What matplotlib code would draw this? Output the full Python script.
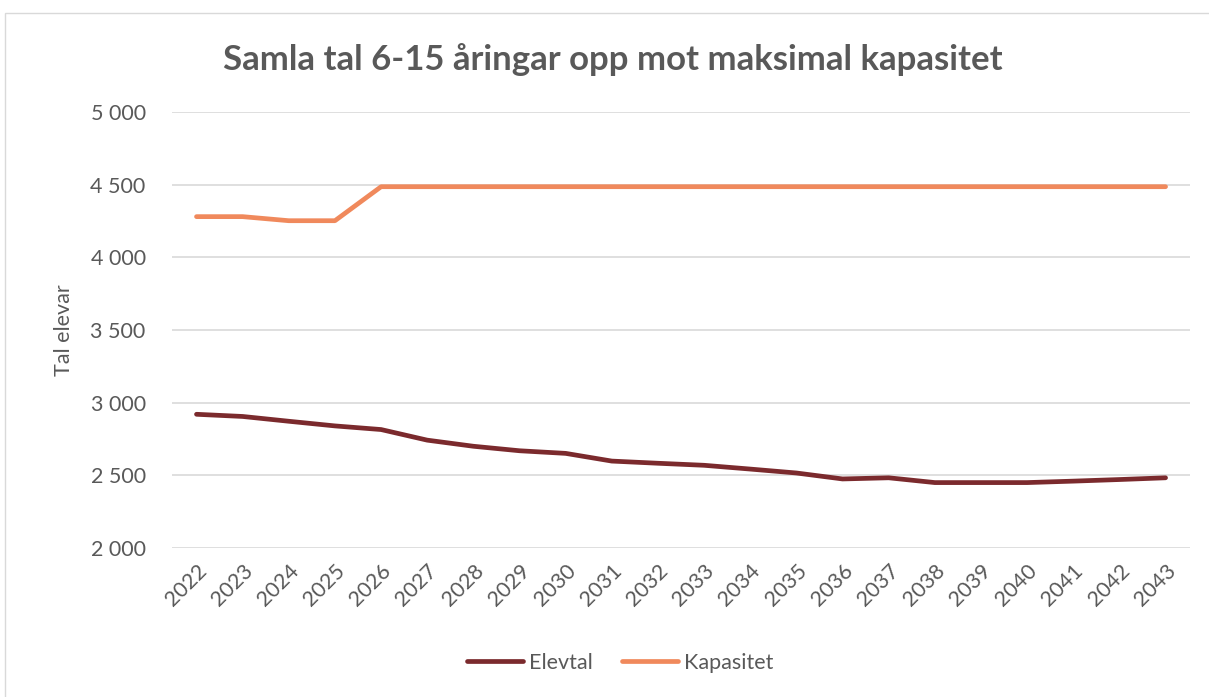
import matplotlib
matplotlib.use("Agg")
import matplotlib.pyplot as plt
from matplotlib.patches import Rectangle
from matplotlib.ticker import FuncFormatter

years = [str(y) for y in range(2022, 2044)]
elevtal = [2920, 2905, 2872, 2840, 2815, 2742, 2700, 2669, 2651, 2598, 2583,
           2569, 2543, 2516, 2475, 2483, 2450, 2450, 2450, 2460, 2471, 2483]
kapasitet = [4280, 4280, 4252, 4252, 4486, 4486, 4486, 4486, 4486, 4486, 4486,
             4486, 4486, 4486, 4486, 4486, 4486, 4486, 4486, 4486, 4486, 4486]
yticks = [2000, 2500, 3000, 3500, 4000, 4500, 5000]

GREY = "#595959"
MAROON = "#7B2A2D"
ORANGE = "#F0895C"
plt.rcParams["font.family"] = ["Lato", "DejaVu Sans"]

fig = plt.figure(figsize=(12.09, 6.97), dpi=100)
ax = fig.add_axes([0.1423, 0.2138, 0.842, 0.6255])

# outer chart border (light grey frame as in the office chart)
fig.patches.append(Rectangle((5 / 1209, -0.01), 1.02, 1 - 13 / 697 + 0.01,
                             transform=fig.transFigure, fill=False,
                             edgecolor="#d9d9d9", lw=1.0))

x = range(len(years))
ax.plot(x, elevtal, color=MAROON, lw=3.4, solid_capstyle="round",
        solid_joinstyle="round", label="Elevtal")
ax.plot(x, kapasitet, color=ORANGE, lw=3.4, solid_capstyle="round",
        solid_joinstyle="round", label="Kapasitet")

ax.set_xlim(-0.53, len(years) - 0.47)
ax.set_ylim(2000, 5000)
ax.set_yticks(yticks)
ax.yaxis.set_major_formatter(FuncFormatter(lambda v, p: f"{v:,.0f}".replace(",", " ")))
ax.set_xticks(list(x))
ax.set_xticklabels(years, rotation=45, ha="right", rotation_mode="anchor")
ax.grid(axis="y", color="#d9d9d9", lw=1.2)
ax.set_axisbelow(True)
for s in ax.spines.values():
    s.set_visible(False)
ax.tick_params(axis="both", length=0, labelsize=15.5, colors=GREY)
ax.tick_params(axis="y", pad=19)
ax.tick_params(axis="x", pad=9)

ax.set_ylabel("Tal elevar", fontsize=15.5, color=GREY, labelpad=12)
fig.text(0.507, 0.915, "Samla tal 6-15 åringar opp mot maksimal kapasitet",
         ha="center", va="center", fontsize=25, weight="bold", color=GREY)

fig.legend(loc="center", bbox_to_anchor=(0.513, 0.049), ncol=2, frameon=False,
           fontsize=15.5, handlelength=2.6, columnspacing=1.4, handletextpad=0.25,
           labelcolor=GREY)

fig.savefig("out.png", dpi=100)
